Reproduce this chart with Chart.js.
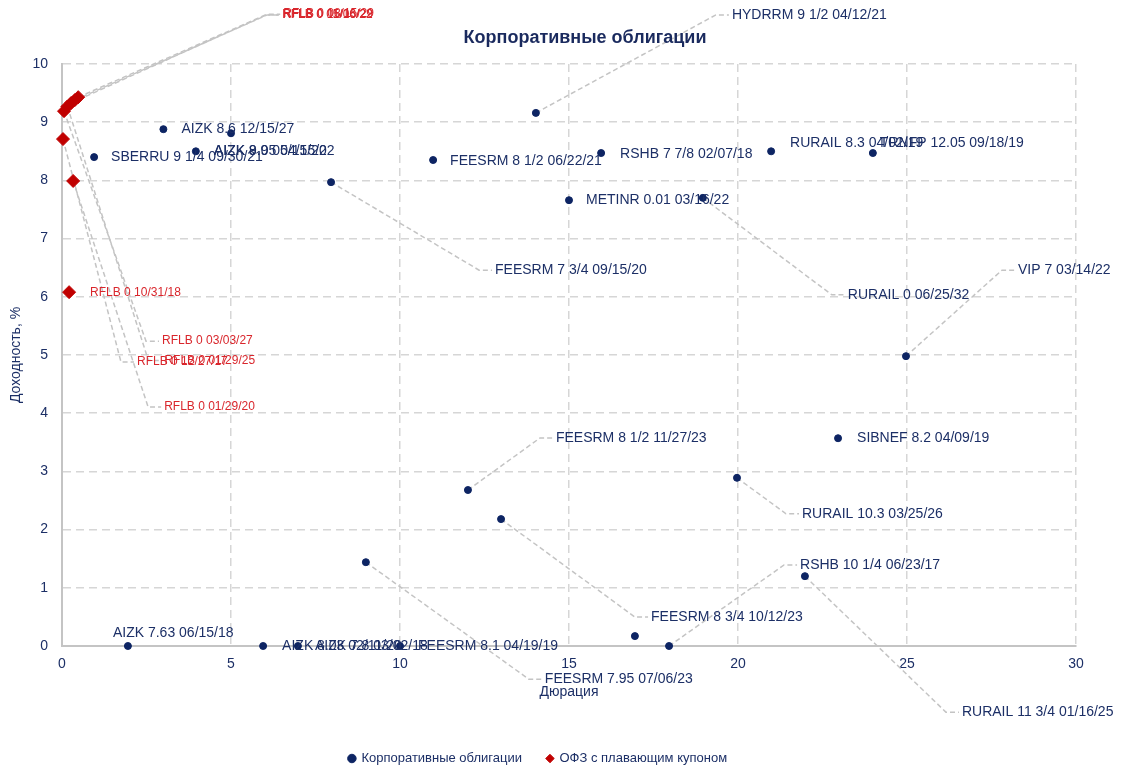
<!DOCTYPE html>
<html>
<head>
<meta charset="utf-8">
<script src="https://cdn.jsdelivr.net/npm/chart.js@4/dist/chart.umd.min.js"></script>
<style>
  html, body { margin: 0; padding: 0; background: #fff; }
  #wrap { width: 1124px; height: 768px; }
</style>
</head>
<body>
<div id="wrap"><canvas id="bondChart" width="1124" height="768"></canvas></div>
<script>
// --- data ---
const corpNames = [
    'AIZK 8.6 12/15/27', 'AIZK 9.05 04/15/22', 'AIZK 8.9 05/15/20', 'SBERRU 9 1/4 09/30/21',
    'FEESRM 8 1/2 06/22/21', 'RSHB 7 7/8 02/07/18', 'RURAIL 8.3 04/02/19', 'TRNFP 12.05 09/18/19',
    'HYDRRM 9 1/2 04/12/21', 'FEESRM 7 3/4 09/15/20', 'METINR 0.01 03/16/22', 'RURAIL 0 06/25/32',
    'VIP 7 03/14/22', 'SIBNEF 8.2 04/09/19', 'FEESRM 8 1/2 11/27/23', 'RURAIL 10.3 03/25/26',
    'FEESRM 8 3/4 10/12/23', 'FEESRM 7.95 07/06/23', '', 'RSHB 10 1/4 06/23/17',
    'RURAIL 11 3/4 01/16/25', 'AIZK 7.63 06/15/18', 'AIZK 8.03 02/11/20', 'AIZK 7.8 03/02/18',
    'FEESRM 8.1 04/19/19'
];
const corpDuration = [3.0, 5.0, 3.96, 0.95, 10.98, 15.95, 20.98, 23.99, 14.02, 7.96, 15.0, 18.96,
    24.97, 22.96, 12.01, 19.97, 12.99, 8.99, 16.95, 17.96, 21.98, 1.95, 5.95, 6.98, 10.0];
const corpYield = [8.88, 8.81, 8.5, 8.4, 8.35, 8.47, 8.5, 8.47, 9.16, 7.97, 7.66, 7.7,
    4.98, 3.57, 2.68, 2.89, 2.18, 1.44, 0.17, 0, 1.2, 0, 0, 0, 0];

const ofzNames = [
    'RFLB 0 03/03/27', 'RFLB 0 01/29/25', 'RFLB 0 12/27/17', 'RFLB 0 01/29/20',
    'RFLB 0 10/31/18', 'RFLB 0 05/06/29', 'RFLB 0 11/16/22', 'RFLB 0 08/15/29'
];
const ofzDuration = [0.06, 0.16, 0.03, 0.33, 0.21, 0.27, 0.38, 0.48];
const ofzYield = [9.19, 9.27, 8.71, 7.99, 6.08, 9.33, 9.38, 9.43];

const xTicks = [0, 5, 10, 15, 20, 25, 30];
const yTicks = [0, 1, 2, 3, 4, 5, 6, 7, 8, 9, 10];

// label placement, pixels from the point (null = no label)
const corpLabelShift = [[18, 0], [-17, 18], [18, 0], [17, 0], [17, 1], [19, 1], [19, -8], [7, -10],
    [196, -98], [164, 88], [17, 0], [145, 97], [112, -86], [19, 0], [88, -52], [65, 36],
    [150, 98], [179, 117], null, [131, -81], [157, 136], [-15, -13], [19, 0], [17, 0], [18, 0]];
const ofzLabelShift = [[98, 230], [97, 254], [74, 223], [91, 226], [21, 1], [211, -88], [208, -85], [205, -83]];

const navy = '#0d2463';
const textNavy = '#1c2f66';
const red = '#c00000';
const redText = '#d9262c';
const font = "'Liberation Sans Narrow', 'Arial Narrow', 'Liberation Sans', sans-serif";

const labelSets = [
    { names: corpNames, shift: corpLabelShift, color: textNavy, size: 14 },
    { names: ofzNames, shift: ofzLabelShift, color: redText, size: 12 }
];

const bondLabels = {
    id: 'bondLabels',
    beforeDatasetsDraw(chart) {
        const ctx = chart.ctx;
        ctx.save();
        ctx.strokeStyle = '#c4c4c4';
        ctx.lineWidth = 1.5;
        ctx.setLineDash([5, 3]);
        labelSets.forEach((set, d) => {
            chart.getDatasetMeta(d).data.forEach((pt, i) => {
                const s = set.shift[i];
                if (!s || (Math.abs(s[0]) < 40 && Math.abs(s[1]) < 25)) return;
                const lx = pt.x + s[0], ly = pt.y + s[1];
                ctx.beginPath();
                ctx.moveTo(pt.x, pt.y);
                ctx.lineTo(lx - 16, ly);
                ctx.lineTo(lx - 3, ly);
                ctx.stroke();
            });
        });
        ctx.restore();
    },
    afterDatasetsDraw(chart) {
        const ctx = chart.ctx;
        ctx.save();
        ctx.textAlign = 'left';
        ctx.textBaseline = 'middle';
        labelSets.forEach((set, d) => {
            ctx.fillStyle = set.color;
            ctx.font = set.size + 'px ' + font;
            chart.getDatasetMeta(d).data.forEach((pt, i) => {
                const s = set.shift[i];
                if (!s || !set.names[i]) return;
                ctx.fillText(set.names[i], pt.x + s[0], pt.y + s[1]);
            });
        });
        ctx.restore();
    },
    afterDraw(chart) {
        const ctx = chart.ctx;
        ctx.save();
        ctx.fillStyle = '#1a2a5e';
        ctx.font = 'bold 18px ' + font;
        ctx.textAlign = 'center';
        ctx.textBaseline = 'middle';
        ctx.fillText('Корпоративные облигации', 585, 38);
        ctx.restore();
    }
};

const gridColor = c => (c.tick && c.tick.value === 0) ? 'rgba(0,0,0,0)' : '#d6d6d6';

new Chart(document.getElementById('bondChart'), {
    type: 'scatter',
    data: {
        datasets: [{
            label: 'Корпоративные облигации',
            data: corpDuration.map((x, i) => ({ x: x, y: corpYield[i] })),
            backgroundColor: navy,
            borderColor: navy,
            pointStyle: 'circle',
            pointRadius: 3.5,
            clip: false
        }, {
            label: 'ОФЗ с плавающим купоном',
            data: ofzDuration.map((x, i) => ({ x: x, y: ofzYield[i] })),
            backgroundColor: red,
            borderColor: red,
            pointStyle: 'rectRot',
            pointRadius: 6.5,
            clip: false
        }]
    },
    options: {
        responsive: false,
        animation: false,
        layout: { padding: { left: 0, right: 48, top: 64, bottom: -7 } },
        plugins: {
            title: { display: false },
            tooltip: { enabled: false },
            legend: {
                position: 'bottom',
                labels: {
                    usePointStyle: true,
                    boxWidth: 6,
                    boxHeight: 6,
                    padding: 25,
                    color: textNavy,
                    font: { family: font, size: 13 }
                }
            }
        },
        scales: {
            x: {
                type: 'linear',
                min: 0,
                max: 30,
                afterBuildTicks: s => { s.ticks = xTicks.map(v => ({ value: v })); },
                afterFit: s => { s.height = 81; },
                grid: { color: gridColor, lineWidth: 1.5, drawTicks: false },
                border: { display: true, color: '#c4c4c4', width: 2, dash: [8, 5] },
                ticks: { color: textNavy, padding: 10, font: { family: font, size: 14 } },
                title: {
                    display: true,
                    text: 'Дюрация',
                    color: textNavy,
                    padding: { top: 0, bottom: 26 },
                    font: { family: font, size: 14 }
                }
            },
            y: {
                type: 'linear',
                min: 0,
                max: 10,
                afterBuildTicks: s => { s.ticks = yTicks.map(v => ({ value: v })); },
                afterFit: s => { s.width = 62; },
                grid: { color: gridColor, lineWidth: 1.5, drawTicks: false },
                border: { display: true, color: '#c4c4c4', width: 2, dash: [8, 5] },
                ticks: { color: textNavy, padding: 14, font: { family: font, size: 14 } },
                title: {
                    display: true,
                    text: 'Доходность, %',
                    color: textNavy,
                    padding: { top: 8, bottom: 0 },
                    font: { family: font, size: 14 }
                }
            }
        }
    },
    plugins: [bondLabels]
});
</script>
</body>
</html>
